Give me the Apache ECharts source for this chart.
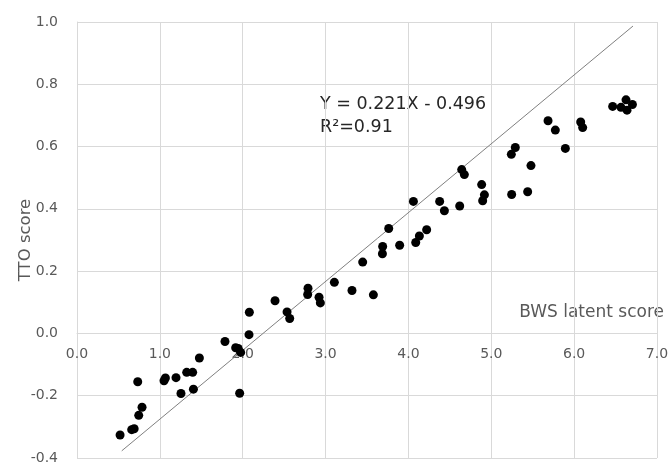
<!DOCTYPE html>
<html>
<head>
<meta charset="utf-8">
<script src="https://cdn.jsdelivr.net/npm/echarts@6/dist/echarts.min.js"></script>
<style>html,body{margin:0;padding:0;background:#fff}#c{width:668px;height:466px}</style>
</head>
<body>
<div id="c"></div>
<script>
var bwsScores = [0.52,0.66,0.69,0.745,0.785,0.733,1.05,1.067,1.195,1.255,1.324,1.396,1.405,1.477,1.786,1.915,1.945,1.975,1.963,2.076,2.08,2.39,2.535,2.567,2.788,2.784,2.921,2.937,3.106,3.319,3.448,3.577,3.689,3.686,3.762,3.894,4.088,4.132,4.22,4.06,4.377,4.434,4.619,4.643,4.675,4.884,4.917,4.896,5.246,5.439,5.242,5.29,5.479,5.685,5.773,5.894,6.079,6.103,6.465,6.565,6.626,6.638,6.703];
var ttoScores = [-0.326,-0.309,-0.306,-0.263,-0.237,-0.155,-0.152,-0.143,-0.142,-0.193,-0.125,-0.125,-0.179,-0.079,-0.026,-0.046,-0.048,-0.061,-0.192,-0.004,0.068,0.105,0.069,0.048,0.145,0.125,0.116,0.098,0.164,0.138,0.229,0.124,0.279,0.256,0.337,0.283,0.292,0.313,0.333,0.424,0.424,0.394,0.409,0.526,0.51,0.478,0.445,0.426,0.446,0.455,0.575,0.597,0.539,0.683,0.653,0.594,0.679,0.661,0.729,0.726,0.75,0.717,0.735];
var trendX = [0.54, 6.71];
var trendY = [-0.377, 0.987];
var equationText = 'Y = 0.221X - 0.496';
var r2Text = 'R\u00B2=0.91';
var xTitle = 'BWS latent score';
var yTitle = 'TTO score';

var points = bwsScores.map(function (x, i) { return [x, ttoScores[i]]; });
var trend = trendX.map(function (x, i) { return [x, trendY[i]]; });

var chart = echarts.init(document.getElementById('c'), null, {renderer: 'canvas'});
var font = 'DejaVu Sans';
var gridColor = '#d9d9d9';
var labelColor = '#595959';
var gridTop = 22, gridBottom = 8, yMin = -0.4, yMax = 1.0;
var plotH = 466 - gridTop - gridBottom;
// place the x axis (line and labels) on y = 0
var zeroOffset = -plotH * (0 - yMin) / (yMax - yMin);
chart.setOption({
  animation: false,
  backgroundColor: '#fff',
  textStyle: {fontFamily: font},
  grid: {left: 77, right: 11, top: gridTop, bottom: gridBottom, containLabel: false, outerBoundsMode: 'none'},
  xAxis: {
    type: 'value', min: 0, max: 7, interval: 1, position: 'bottom', offset: zeroOffset,
    axisLine: {show: true, onZero: false, lineStyle: {color: gridColor, width: 1}},
    axisTick: {show: false},
    axisLabel: {color: labelColor, fontSize: 14, fontFamily: font, margin: 14,
      formatter: function (v) { return v.toFixed(1); }},
    splitLine: {show: true, lineStyle: {color: gridColor, width: 1}}
  },
  yAxis: {
    type: 'value', min: yMin, max: yMax, interval: 0.2,
    name: yTitle, nameLocation: 'middle', nameGap: 43, nameMoveOverlap: false,
    nameTextStyle: {color: labelColor, fontSize: 16.5, fontFamily: font},
    axisLine: {show: true, onZero: false, lineStyle: {color: gridColor, width: 1}},
    axisTick: {show: false},
    axisLabel: {color: labelColor, fontSize: 14, fontFamily: font, margin: 19,
      formatter: function (v) { return v.toFixed(1); }},
    splitLine: {show: true, lineStyle: {color: gridColor, width: 1}}
  },
  graphic: [
    {type: 'text', left: 320, top: 95, style: {text: equationText, fill: '#262626', font: '17.5px "DejaVu Sans"'}},
    {type: 'text', left: 320, top: 118, style: {text: r2Text, fill: '#262626', font: '17.5px "DejaVu Sans"'}},
    {type: 'text', right: 4, top: 304, style: {text: xTitle, fill: labelColor, font: '17px "DejaVu Sans"'}}
  ],
  series: [
    {type: 'line', data: trend, symbol: 'none', silent: true,
      lineStyle: {color: '#808080', width: 1}, z: 1},
    {type: 'scatter', data: points, symbol: 'circle', symbolSize: 9,
      itemStyle: {color: '#000', opacity: 1}, z: 2}
  ]
});
</script>
</body>
</html>
